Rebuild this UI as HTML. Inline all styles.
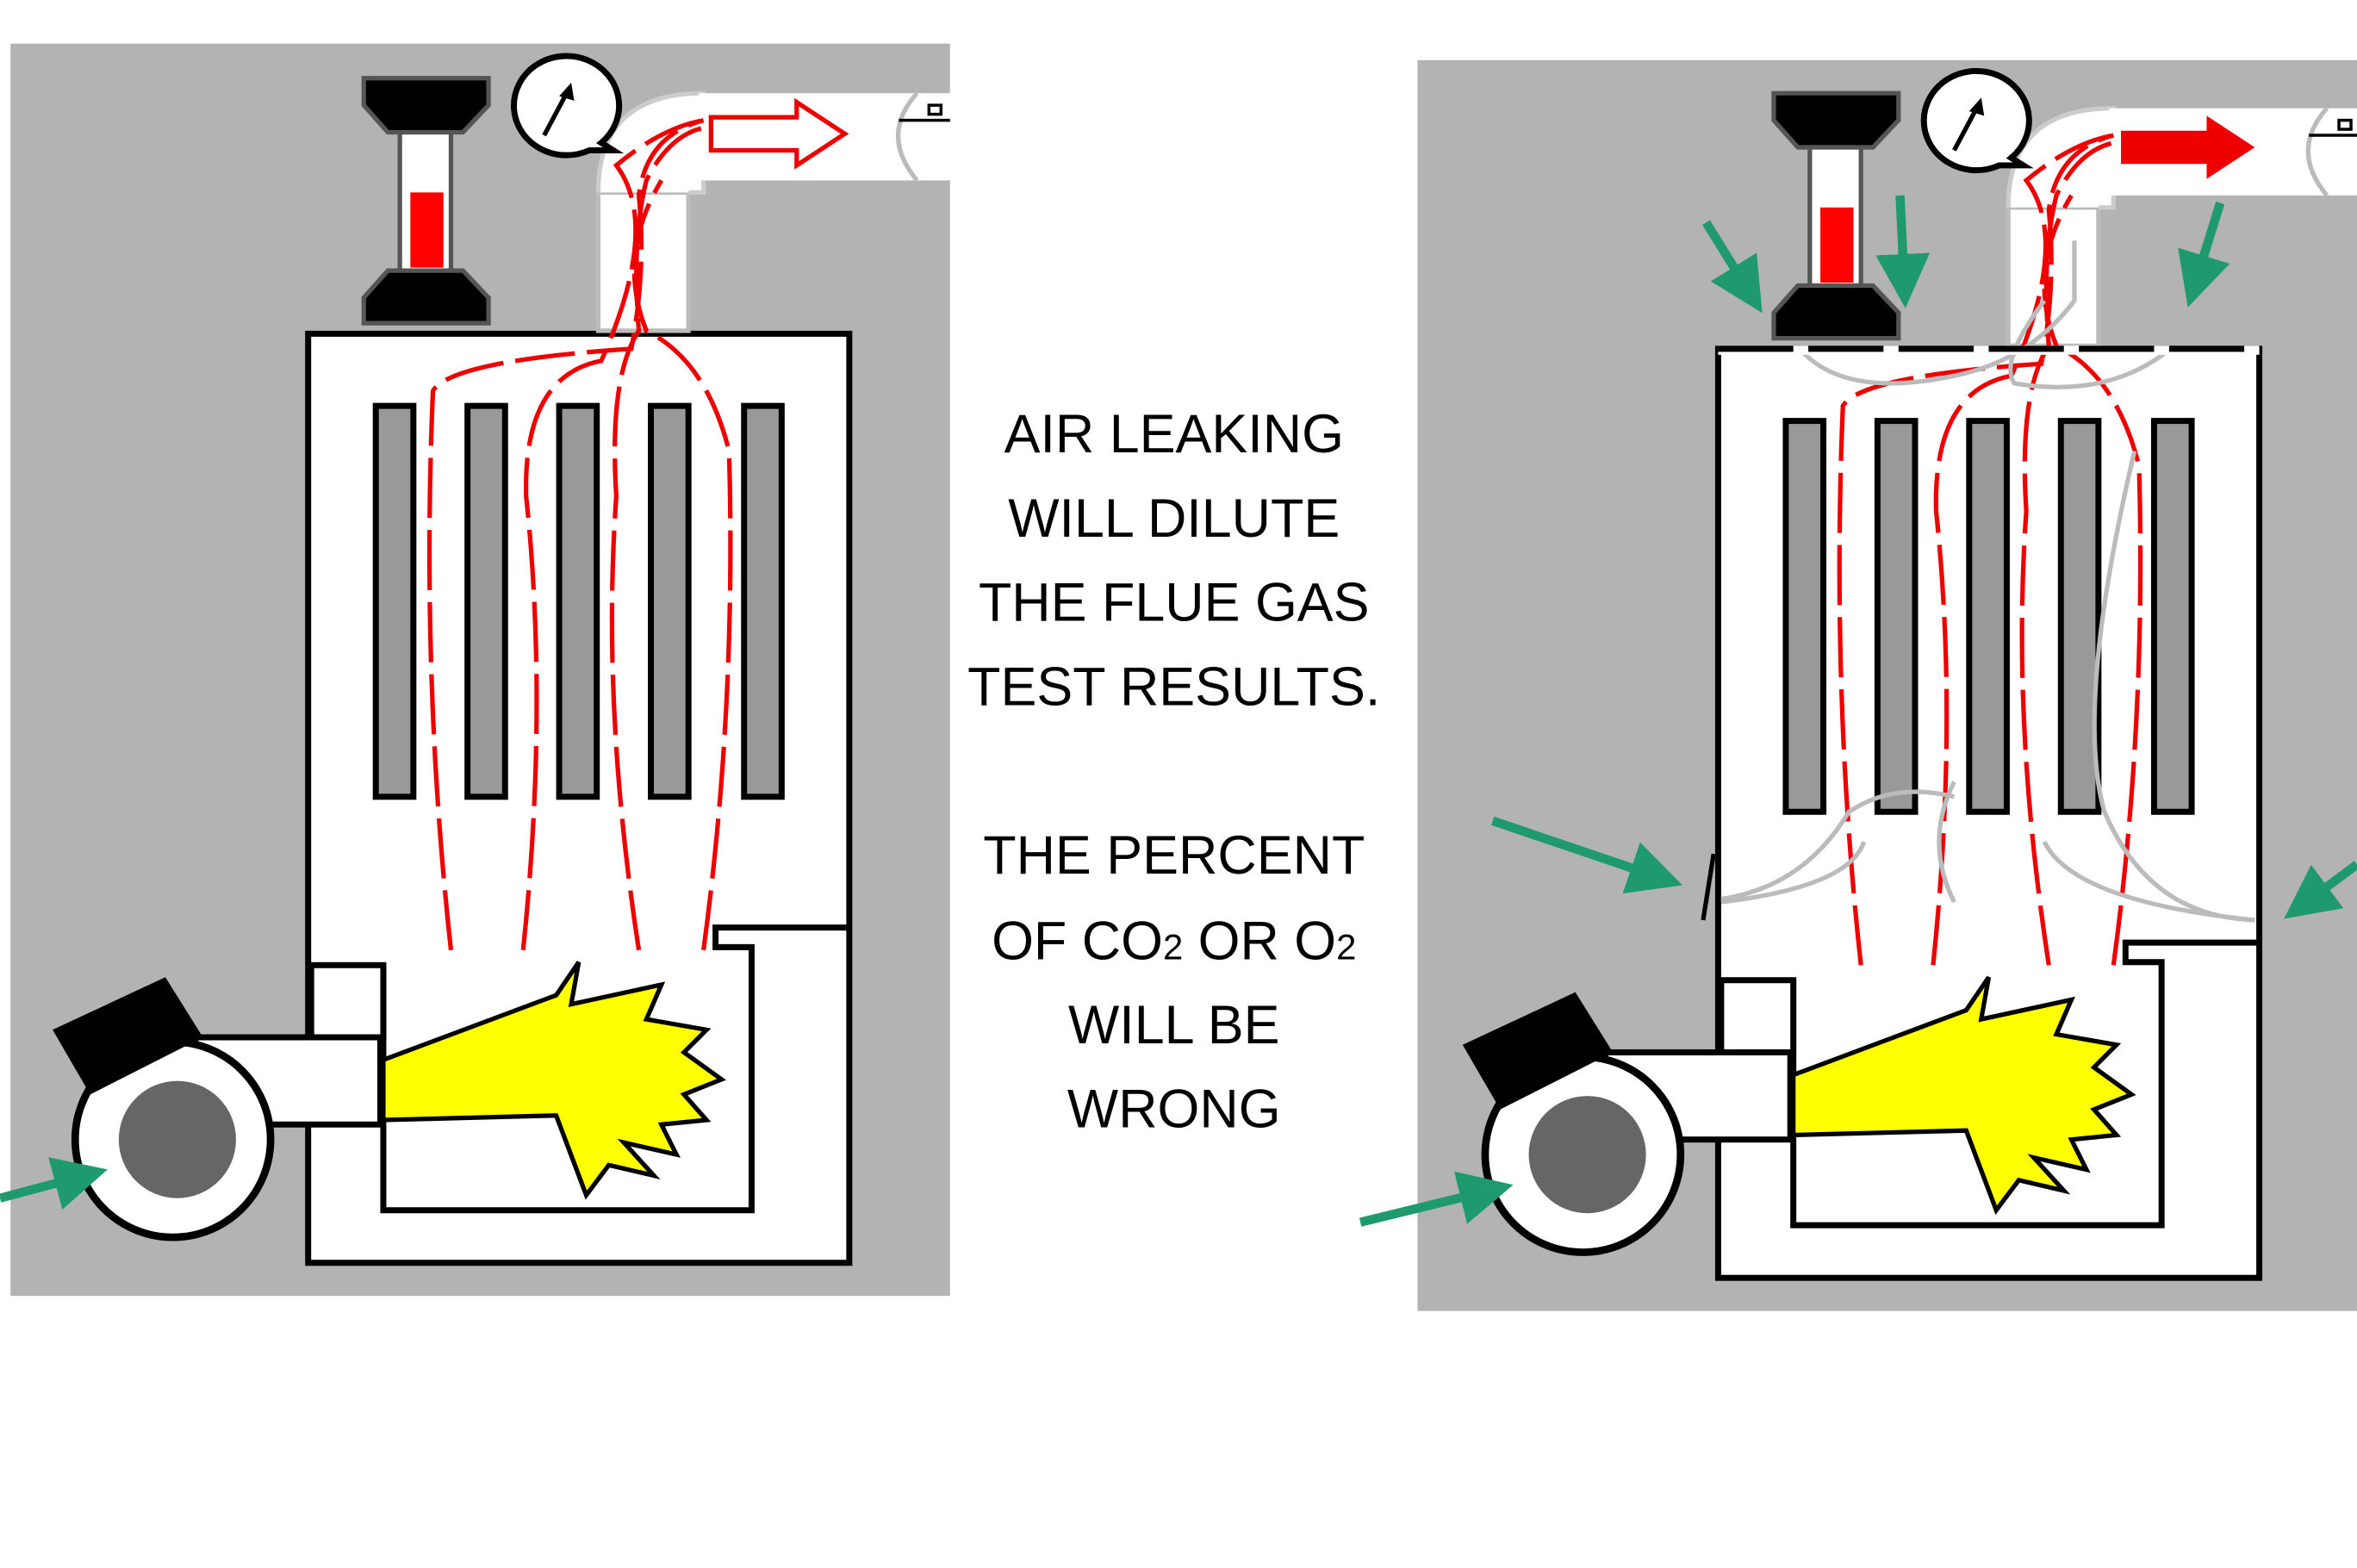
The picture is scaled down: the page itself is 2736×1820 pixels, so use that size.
<!DOCTYPE html>
<html><head><meta charset="utf-8"><style>
html,body{margin:0;padding:0;background:#fff;}
svg{display:block;}
</style></head><body>
<svg width="2736" height="1820" viewBox="0 0 1568 1043" preserveAspectRatio="none" xmlns="http://www.w3.org/2000/svg">
<defs>
<marker id="ga" markerWidth="6" markerHeight="6" refX="4" refY="3" orient="auto" markerUnits="strokeWidth">
<path d="M0,0 L6,3 L0,6 z" fill="#1e9a6e"/>
</marker>
<g id="furn">
  <rect x="205" y="222" width="360" height="618" fill="#fff" stroke="#000" stroke-width="4"/>
  <g fill="#999" stroke="#000" stroke-width="4">
    <rect x="250" y="270" width="25" height="260"/>
    <rect x="311" y="270" width="25" height="260"/>
    <rect x="372" y="270" width="25" height="260"/>
    <rect x="433" y="270" width="25" height="260"/>
    <rect x="495" y="270" width="25" height="260"/>
  </g>
  <path d="M255,642 L255,805 L500,805 L500,630 L476,630 L476,617 L565,617" fill="none" stroke="#000" stroke-width="4"/>
  <rect x="207" y="642" width="48" height="48" fill="#fff" stroke="#000" stroke-width="4"/>
  <rect x="130" y="690" width="123" height="58" fill="#fff" stroke="#000" stroke-width="4"/>
  <polygon points="255,705 370,662 385,640 380,668 440,655 430,678 470,685 455,700 480,718 455,728 470,745 440,748 450,768 415,760 435,782 405,775 390,795 370,742 255,745" fill="#ffff00" stroke="#000" stroke-width="3"/>
  <circle cx="115" cy="758" r="65" fill="#fff" stroke="#000" stroke-width="5"/>
  <circle cx="118" cy="758" r="39" fill="#666"/>
  <polygon points="35,685 110,650 135,690 60,728" fill="#000"/>
  <rect x="398" y="128" width="60" height="92" fill="#fff" stroke="#bbb" stroke-width="3"/>
  <path d="M398,128 Q398,62 468,62 L468,128 L458,128" fill="#fff" stroke="#ccc" stroke-width="3"/>
  <rect x="465" y="62" width="170" height="58" fill="#fff"/>
  <path d="M610,62 Q585,90 610,120" fill="none" stroke="#bbb" stroke-width="3"/>
  <line x1="598" y1="80" x2="632" y2="80" stroke="#000" stroke-width="2"/>
  <rect x="618" y="70" width="8" height="6" fill="#fff" stroke="#000" stroke-width="2"/>
  <polygon points="242,52 325,52 325,70 308,88 258,88 242,70" fill="#000" stroke="#555" stroke-width="3"/>
  <rect x="266" y="88" width="34" height="92" fill="#fff" stroke="#555" stroke-width="3"/>
  <rect x="273" y="128" width="22" height="50" fill="#f00"/>
  <polygon points="258,180 308,180 325,198 325,215 242,215 242,198" fill="#000" stroke="#555" stroke-width="3"/>
  <path d="M400,95 A35,33 0 1,0 392,100 L408,100 Z" fill="#fff" stroke="#000" stroke-width="4"/>
  <line x1="362" y1="90" x2="378" y2="60" stroke="#000" stroke-width="3"/>
  <polygon points="380,55 372,64 382,67" fill="#000"/>
  <g fill="none" stroke="#e00" stroke-width="3" stroke-dasharray="40,8">
    <path d="M300,632 Q280,450 288,260 Q300,240 420,232 Q430,180 425,130 Q430,90 468,80"/>
    <path d="M348,632 Q365,470 350,330 Q348,250 400,240 Q440,150 410,110 Q440,85 468,80"/>
    <path d="M425,632 Q400,470 410,330 Q405,250 425,220 Q420,160 430,120 Q445,90 468,85"/>
    <path d="M468,632 Q490,470 485,300 Q470,240 430,220 Q410,170 440,120"/>
  </g>
</g>
</defs>

<rect x="7" y="29" width="625" height="833" fill="#b3b3b3"/>
<rect x="943" y="40" width="625" height="832" fill="#b3b3b3"/>

<use href="#furn"/>
<polygon points="473,78 530,78 530,68 562,89 530,110 530,100 473,100" fill="#fff" stroke="#e00" stroke-width="3"/>

<use href="#furn" transform="translate(938,10)"/>
<polygon points="1411,87 1468,87 1468,77 1500,98 1468,119 1468,109 1411,109" fill="#e00"/>
<g fill="none" stroke="#bbb" stroke-width="3">
  <path d="M1145,598 Q1200,590 1230,540 Q1260,520 1300,530"/>
  <path d="M1145,600 Q1230,590 1240,560"/>
  <path d="M1300,600 Q1280,560 1300,520"/>
  <path d="M1500,612 Q1430,610 1400,540 Q1380,470 1420,300"/>
  <path d="M1500,612 Q1380,600 1360,560"/>
  <path d="M1200,235 Q1230,265 1300,250 Q1350,240 1380,200 L1380,160"/>
  <path d="M1440,235 Q1400,265 1340,255 Q1330,240 1360,200"/>
</g>
<rect x="1143" y="230" width="360" height="6" fill="#fff"/>
<path d="M1143,232 L1503,232" stroke="#000" stroke-width="4" stroke-dasharray="50,10"/>
<line x1="1140" y1="568" x2="1133" y2="612" stroke="#000" stroke-width="3"/>

<g stroke="#1e9a6e" stroke-width="6" fill="none" marker-end="url(#ga)">
  <line x1="0" y1="797" x2="60" y2="781"/>
  <line x1="905" y1="813" x2="995" y2="791"/>
  <line x1="993" y1="546" x2="1108" y2="585"/>
  <line x1="1135" y1="148" x2="1166" y2="198"/>
  <line x1="1264" y1="130" x2="1267" y2="193"/>
  <line x1="1477" y1="135" x2="1459" y2="193"/>
  <line x1="1568" y1="575" x2="1529" y2="604"/>
</g>

<g font-family="Liberation Sans, sans-serif" font-size="36" text-anchor="middle" fill="#000">
  <text x="781" y="301">AIR LEAKING</text>
  <text x="781" y="357">WILL DILUTE</text>
  <text x="781" y="413">THE FLUE GAS</text>
  <text x="781" y="469">TEST RESULTS.</text>
  <text x="781" y="581">THE PERCENT</text>
  <text x="781" y="638">OF CO<tspan font-size="24">2</tspan> OR O<tspan font-size="24">2</tspan></text>
  <text x="781" y="694">WILL BE</text>
  <text x="781" y="750">WRONG</text>
</g>
</svg>
</body></html>
